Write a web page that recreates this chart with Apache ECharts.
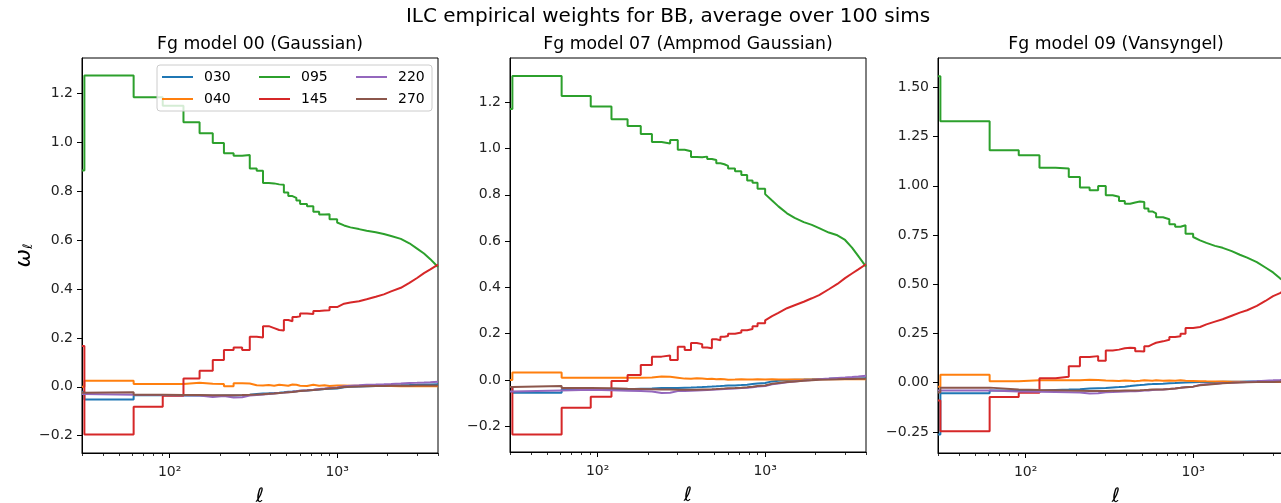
<!DOCTYPE html>
<html><head><meta charset="utf-8">
<script src="https://cdn.jsdelivr.net/npm/echarts@6/dist/echarts.min.js"></script>
<style>html,body{margin:0;padding:0;background:#fff}#c{width:1281px;height:503px}</style>
</head><body><div id="c"></div>
<script>
// multipole bin starts (ell)
const ELL = [30, 31, 61, 91, 121, 151, 181, 211, 241, 271, 301, 331, 361, 391, 421, 451, 481, 511, 541, 571, 601, 661, 721, 781, 841, 901, 1000, 1100, 1200, 1350, 1500, 1700, 1900, 2100, 2400, 2700, 3000, 3300, 3600, 4000];
const CHANNELS = ['030', '040', '095', '145', '220', '270'];
const COLORS = ['#1f77b4', '#ff7f0e', '#2ca02c', '#d62728', '#9467bd', '#8c564b'];
const MAIN_TITLE = 'ILC empirical weights for BB, average over 100 sims';
const PANEL_TITLES = ['Fg model 00 (Gaussian)', 'Fg model 07 (Ampmod Gaussian)', 'Fg model 09 (Vansyngel)'];
const X_MAJOR = [100, 1000];
const X_MINOR = [30, 40, 50, 60, 70, 80, 90, 200, 300, 400, 500, 600, 700, 800, 900, 2000, 3000, 4000];
const Y_TICKS_A = [-0.2, 0, 0.2, 0.4, 0.6, 0.8, 1.0, 1.2];
const Y_TICKS_B = [-0.25, 0, 0.25, 0.5, 0.75, 1.0, 1.25, 1.5];

// Fg model 00
const P00_030 = [-0.02, -0.052, -0.035, -0.036, -0.036, -0.037, -0.036, -0.036, -0.035, -0.033, -0.03, -0.028, -0.027, -0.026, -0.024, -0.022, -0.02, -0.019, -0.018, -0.016, -0.015, -0.013, -0.011, -0.009, -0.008, -0.007, -0.004, -0.002, 0.0, 0.001, 0.002, 0.003, 0.004, 0.005, 0.006, 0.007, 0.008, 0.009, 0.009, 0.01];
const P00_040 = [0.0, 0.025, 0.011, 0.011, 0.016, 0.012, 0.011, 0.002, 0.014, 0.013, 0.006, 0.005, 0.007, 0.004, 0.008, 0.006, 0.004, 0.009, 0.008, 0.004, 0.003, 0.008, 0.004, 0.006, 0.003, 0.005, 0.004, 0.005, 0.004, 0.004, 0.003, 0.003, 0.003, 0.003, 0.002, 0.002, 0.002, 0.002, 0.002, 0.002];
const P00_095 = [0.885, 1.273, 1.184, 1.15, 1.082, 1.037, 0.997, 0.955, 0.945, 0.948, 0.893, 0.884, 0.834, 0.832, 0.828, 0.826, 0.795, 0.78, 0.773, 0.762, 0.748, 0.738, 0.716, 0.705, 0.706, 0.685, 0.672, 0.66, 0.652, 0.645, 0.638, 0.632, 0.625, 0.617, 0.605, 0.587, 0.565, 0.545, 0.522, 0.49];
const P00_145 = [0.167, -0.195, -0.082, -0.037, 0.034, 0.066, 0.109, 0.15, 0.161, 0.15, 0.205, 0.202, 0.248, 0.24, 0.232, 0.23, 0.273, 0.268, 0.285, 0.288, 0.3, 0.298, 0.31, 0.312, 0.313, 0.326, 0.333, 0.34, 0.345, 0.35, 0.358, 0.368, 0.378, 0.39, 0.405, 0.425, 0.445, 0.465, 0.48, 0.5];
const P00_220 = [-0.03, -0.033, -0.034, -0.035, -0.036, -0.042, -0.038, -0.044, -0.043, -0.036, -0.034, -0.032, -0.03, -0.028, -0.026, -0.024, -0.022, -0.02, -0.018, -0.016, -0.014, -0.012, -0.009, -0.007, -0.005, -0.003, 0.0, 0.002, 0.004, 0.006, 0.008, 0.009, 0.01, 0.011, 0.013, 0.015, 0.016, 0.017, 0.018, 0.02];
const P00_270 = [-0.025, -0.022, -0.033, -0.034, -0.034, -0.035, -0.035, -0.035, -0.034, -0.033, -0.032, -0.031, -0.029, -0.028, -0.026, -0.024, -0.022, -0.021, -0.019, -0.017, -0.015, -0.013, -0.011, -0.009, -0.007, -0.005, -0.003, -0.001, 0.0, 0.001, 0.002, 0.003, 0.003, 0.004, 0.004, 0.004, 0.005, 0.005, 0.005, 0.005];

// Fg model 07
const P07_030 = [-0.03, -0.055, -0.04, -0.04, -0.04, -0.038, -0.037, -0.035, -0.035, -0.034, -0.033, -0.032, -0.031, -0.03, -0.029, -0.028, -0.027, -0.026, -0.025, -0.024, -0.024, -0.022, -0.02, -0.017, -0.015, -0.013, -0.01, -0.006, -0.003, 0.0, 0.001, 0.002, 0.003, 0.004, 0.005, 0.006, 0.006, 0.007, 0.007, 0.008];
const P07_040 = [0.0, 0.032, 0.01, 0.01, 0.01, 0.01, 0.011, 0.015, 0.014, 0.01, 0.006, 0.005, 0.008, 0.006, 0.004, 0.005, 0.003, 0.004, 0.003, 0.001, 0.002, 0.003, 0.002, 0.002, 0.003, 0.002, 0.002, 0.003, 0.002, 0.002, 0.002, 0.002, 0.002, 0.003, 0.003, 0.003, 0.003, 0.003, 0.003, 0.003];
const P07_095 = [1.171, 1.313, 1.227, 1.181, 1.126, 1.097, 1.063, 1.028, 1.022, 1.037, 0.995, 0.988, 0.963, 0.962, 0.965, 0.955, 0.95, 0.936, 0.932, 0.925, 0.914, 0.902, 0.886, 0.862, 0.852, 0.826, 0.803, 0.775, 0.75, 0.72, 0.7, 0.682, 0.67, 0.656, 0.637, 0.625, 0.605, 0.572, 0.535, 0.49];
const P07_145 = [-0.03, -0.235, -0.12, -0.072, -0.004, 0.022, 0.065, 0.101, 0.106, 0.086, 0.144, 0.13, 0.16, 0.155, 0.14, 0.137, 0.176, 0.172, 0.187, 0.19, 0.2, 0.205, 0.215, 0.22, 0.232, 0.245, 0.258, 0.276, 0.29, 0.31, 0.323, 0.338, 0.353, 0.367, 0.392, 0.415, 0.44, 0.46, 0.478, 0.5];
const P07_220 = [-0.05, -0.045, -0.042, -0.044, -0.046, -0.048, -0.05, -0.056, -0.055, -0.048, -0.047, -0.046, -0.045, -0.044, -0.043, -0.042, -0.041, -0.04, -0.039, -0.038, -0.037, -0.035, -0.033, -0.031, -0.028, -0.026, -0.022, -0.018, -0.015, -0.01, -0.006, -0.002, 0.0, 0.003, 0.006, 0.009, 0.011, 0.013, 0.015, 0.018];
const P07_270 = [-0.03, -0.026, -0.035, -0.036, -0.038, -0.039, -0.04, -0.041, -0.041, -0.042, -0.042, -0.042, -0.042, -0.041, -0.041, -0.04, -0.039, -0.038, -0.037, -0.036, -0.035, -0.033, -0.031, -0.029, -0.026, -0.024, -0.02, -0.016, -0.013, -0.009, -0.006, -0.003, -0.001, 0.001, 0.002, 0.003, 0.004, 0.004, 0.005, 0.005];

// Fg model 09
const P09_030 = [-0.263, -0.053, -0.04, -0.04, -0.037, -0.035, -0.033, -0.03, -0.028, -0.027, -0.024, -0.022, -0.02, -0.017, -0.014, -0.012, -0.01, -0.008, -0.007, -0.006, -0.005, -0.003, -0.002, 0.0, 0.001, 0.002, 0.003, 0.003, 0.004, 0.004, 0.005, 0.005, 0.005, 0.006, 0.007, 0.008, 0.008, 0.009, 0.009, 0.01];
const P09_040 = [-0.02, 0.04, 0.008, 0.012, 0.012, 0.013, 0.012, 0.015, 0.014, 0.011, 0.01, 0.009, 0.011, 0.01, 0.008, 0.01, 0.012, 0.011, 0.01, 0.012, 0.01, 0.011, 0.01, 0.012, 0.01, 0.009, 0.008, 0.008, 0.007, 0.006, 0.006, 0.005, 0.005, 0.004, 0.004, 0.004, 0.003, 0.003, 0.003, 0.003];
const P09_095 = [1.556, 1.328, 1.18, 1.155, 1.092, 1.088, 1.045, 0.991, 0.977, 0.999, 0.952, 0.944, 0.923, 0.909, 0.915, 0.92, 0.918, 0.885, 0.87, 0.86, 0.84, 0.83, 0.805, 0.792, 0.8, 0.757, 0.74, 0.723, 0.71, 0.695, 0.685, 0.668, 0.65, 0.635, 0.612, 0.585, 0.56, 0.53, 0.51, 0.49];
const P09_145 = [-0.09, -0.247, -0.073, -0.051, 0.023, 0.03, 0.083, 0.13, 0.135, 0.112, 0.164, 0.168, 0.175, 0.178, 0.176, 0.16, 0.158, 0.185, 0.195, 0.203, 0.21, 0.218, 0.232, 0.236, 0.248, 0.278, 0.275, 0.283, 0.296, 0.31, 0.322, 0.34, 0.356, 0.368, 0.39, 0.415, 0.44, 0.455, 0.475, 0.495];
const P09_220 = [-0.04, -0.04, -0.045, -0.046, -0.047, -0.048, -0.05, -0.055, -0.054, -0.048, -0.047, -0.046, -0.045, -0.044, -0.043, -0.042, -0.04, -0.039, -0.037, -0.036, -0.035, -0.032, -0.029, -0.026, -0.023, -0.02, -0.015, -0.011, -0.008, -0.005, -0.002, 0.0, 0.002, 0.004, 0.007, 0.01, 0.012, 0.014, 0.016, 0.018];
const P09_270 = [-0.05, -0.025, -0.035, -0.037, -0.038, -0.04, -0.041, -0.042, -0.042, -0.042, -0.041, -0.041, -0.04, -0.04, -0.039, -0.038, -0.037, -0.036, -0.035, -0.035, -0.035, -0.032, -0.029, -0.026, -0.023, -0.02, -0.018, -0.013, -0.01, -0.006, -0.003, 0.0, 0.001, 0.002, 0.003, 0.004, 0.004, 0.005, 0.005, 0.005];

const PANELS = [
  [P00_030, P00_040, P00_095, P00_145, P00_220, P00_270],
  [P07_030, P07_040, P07_095, P07_145, P07_220, P07_270],
  [P09_030, P09_040, P09_095, P09_145, P09_220, P09_270]
];

// ---------- layout / style ----------
const FONT = 'DejaVu Sans';
const GRIDS = [
  {left: 82, top: 58, width: 356, height: 395},
  {left: 510, top: 58, width: 356, height: 394},
  {left: 938, top: 58, width: 356, height: 395}
];
const Y_RANGES = [[-0.271, 1.345], [-0.311, 1.391], [-0.357, 1.649]];
const STEP_LAST = 26; // binned (stepwise) part of the ell range

function stepify(ell, vals) {
  const pts = [];
  for (let i = 0; i < ell.length; i++) {
    pts.push([ell[i], vals[i]]);
    if (i < STEP_LAST && i + 1 < ell.length) pts.push([ell[i + 1], vals[i]]);
  }
  return pts;
}

const grid = GRIDS.map(g => Object.assign({show: true, borderColor: '#000', borderWidth: 1, backgroundColor: 'transparent',
  containLabel: false, outerBoundsMode: 'none'}, g));

const xAxis = [];
const yAxis = [];
GRIDS.forEach((g, p) => {
  xAxis.push({
    gridIndex: p, type: 'log', logBase: 10, min: 30, max: 4000, position: 'bottom',
    axisLine: {show: true, onZero: false, lineStyle: {color: '#000', width: 1}},
    axisTick: {show: true, length: 5, customValues: X_MAJOR, lineStyle: {color: '#000', width: 1}},
    axisLabel: {show: true, customValues: X_MAJOR, margin: 12, fontSize: 14, fontFamily: FONT, color: '#222',
      formatter: v => (Math.round(Math.log10(v)) === 2 ? '10\u00B2' : '10\u00B3')},
    splitLine: {show: false},
    name: '\u2113', nameLocation: 'middle', nameGap: 34,
    nameTextStyle: {fontSize: 20, fontStyle: 'italic', fontFamily: FONT, color: '#000'}
  });
  xAxis.push({
    gridIndex: p, type: 'log', logBase: 10, min: 30, max: 4000, position: 'bottom', offset: 0,
    axisLine: {show: false, onZero: false},
    axisTick: {show: true, length: 3, customValues: X_MINOR, lineStyle: {color: '#000', width: 0.8}},
    axisLabel: {show: false},
    splitLine: {show: false}
  });
  const yt = p === 2 ? Y_TICKS_B : Y_TICKS_A;
  const ya = {
    gridIndex: p, type: 'value', min: Y_RANGES[p][0], max: Y_RANGES[p][1], position: 'left',
    axisLine: {show: true, onZero: false, lineStyle: {color: '#000', width: 1}},
    axisTick: {show: true, length: 5, customValues: yt, lineStyle: {color: '#000', width: 1}},
    axisLabel: {show: true, customValues: yt, margin: 9, fontSize: 14, fontFamily: FONT, color: '#222',
      formatter: v => (p === 2 ? v.toFixed(2) : v.toFixed(1)).replace('-', '\u2212')},
    splitLine: {show: false}
  };
  if (p === 0) {
    ya.name = '{w|\u03C9}{s|\u2113}';
    ya.nameLocation = 'middle';
    ya.nameGap = 38;
    ya.nameRotate = 90;
    ya.nameTextStyle = {rich: {
      w: {fontSize: 22, fontStyle: 'italic', fontFamily: FONT, color: '#000', lineHeight: 26, verticalAlign: 'bottom'},
      s: {fontSize: 13, fontStyle: 'italic', fontFamily: FONT, color: '#000', lineHeight: 8, verticalAlign: 'bottom'}
    }};
  }
  yAxis.push(ya);
});

const series = [];
PANELS.forEach((panel, p) => {
  panel.forEach((vals, k) => {
    series.push({
      type: 'line', name: CHANNELS[k], xAxisIndex: 2 * p, yAxisIndex: p,
      data: stepify(ELL, vals), showSymbol: false, symbol: 'none', smooth: false,
      lineStyle: {color: COLORS[k], width: 2}, itemStyle: {color: COLORS[k]},
      silent: true, animation: false, clip: true
    });
  });
});

const LEGEND_COLS = [[CHANNELS[0], CHANNELS[1]], [CHANNELS[2], CHANNELS[3]], [CHANNELS[4], CHANNELS[5]]];
const LEGEND_X = [162, 259, 356];
const legend = LEGEND_COLS.map((col, ci) => ({
  orient: 'vertical', left: LEGEND_X[ci], top: 70, padding: 0, data: col,
  icon: 'rect', itemWidth: 31, itemHeight: 2, itemGap: 8, selectedMode: false, z: 20,
  textStyle: {fontSize: 14, fontFamily: FONT, color: '#000', padding: [0, 0, 0, 6], lineHeight: 14}
}));

const graphic = [
  {type: 'rect', z: 10, shape: {x: 157, y: 65, width: 275, height: 46, r: 3},
   style: {fill: 'rgba(255,255,255,0.8)', stroke: '#cccccc', lineWidth: 1}},
  {type: 'text', z: 10, x: 668, y: 17,
   style: {text: MAIN_TITLE, font: '20px "DejaVu Sans"', fill: '#000', align: 'center', verticalAlign: 'middle', textAlign: 'center', textVerticalAlign: 'middle'}}
];
PANEL_TITLES.forEach((t, p) => {
  graphic.push({type: 'text', z: 10, x: GRIDS[p].left + GRIDS[p].width / 2, y: 45,
    style: {text: t, font: '17.3px "DejaVu Sans"', fill: '#000', align: 'center', verticalAlign: 'middle', textAlign: 'center', textVerticalAlign: 'middle'}});
});

const chart = echarts.init(document.getElementById('c'), null, {renderer: 'canvas'});
chart.setOption({
  animation: false,
  backgroundColor: '#fff',
  textStyle: {fontFamily: FONT},
  grid, xAxis, yAxis, series, legend, graphic
});
</script>
</body></html>
